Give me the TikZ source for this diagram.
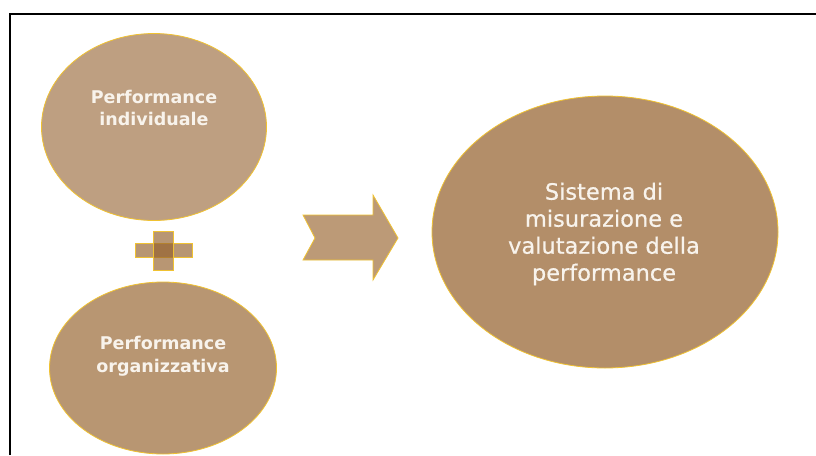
\documentclass[tikz,border=0pt]{standalone}
\usepackage{fontspec}
\setmainfont{DejaVu Sans}
\newfontfamily\bigfont[FakeBold=0.6]{DejaVu Sans}
\usetikzlibrary{shapes.geometric}
\definecolor{gold}{HTML}{F0C232}
\definecolor{bubA}{HTML}{BE9F81}
\definecolor{bubB}{HTML}{B89672}
\definecolor{bubC}{HTML}{B38E69}
\definecolor{arrowfill}{HTML}{BC9A77}
\definecolor{plusfill}{RGB}{148,96,44}
\definecolor{txt}{HTML}{F8F3EC}
\tikzset{
  bub/.style={ellipse, draw=gold, line width=0.8pt, inner sep=0pt},
  smalltxt/.style={text=txt, font=\bfseries\fontsize{17.5}{22.5}\selectfont, align=center},
  bigtxt/.style={text=txt, font=\bigfont\fontsize{22.5}{27}\selectfont, align=center},
  plusbar/.style={fill=plusfill, fill opacity=0.66, draw=gold, line width=0.8pt}
}
\begin{document}
\begin{tikzpicture}[x=1pt,y=-1pt]
\useasboundingbox (0,0) rectangle (816,455);
\fill[white] (0,0) rectangle (816,455);
\draw[line width=2pt] (10,455) -- (10,14) -- (816,14);
% ellipses
\node[bub, fill=bubA, minimum width=225pt, minimum height=187pt] (ind) at (154,127) {};
\node[bub, fill=bubB, minimum width=227pt, minimum height=172pt] (org) at (163,368) {};
\node[bub, fill=bubC, minimum width=346pt, minimum height=272pt] (sis) at (605,232) {};
% texts
\node[smalltxt] (tind) at (154,108) {Performance\\individuale};
\node[smalltxt] (torg) at (163,356) {Performance\\organizzativa};
\node[bigtxt] (tsis) at (604,234) {Sistema di\\misurazione e\\valutazione della\\performance};
% plus sign
\path[plusbar] (135,243) rectangle (192,257);
\path[plusbar] (153,231) rectangle (173,270);
% arrow
\draw[fill=arrowfill, draw=gold, line width=0.8pt, line join=miter]
  (303,215) -- (373,215) -- (373,195) -- (398,238) -- (373,280) -- (373,260)
  -- (303,260) -- (315,238) -- cycle;
\end{tikzpicture}
\end{document}
